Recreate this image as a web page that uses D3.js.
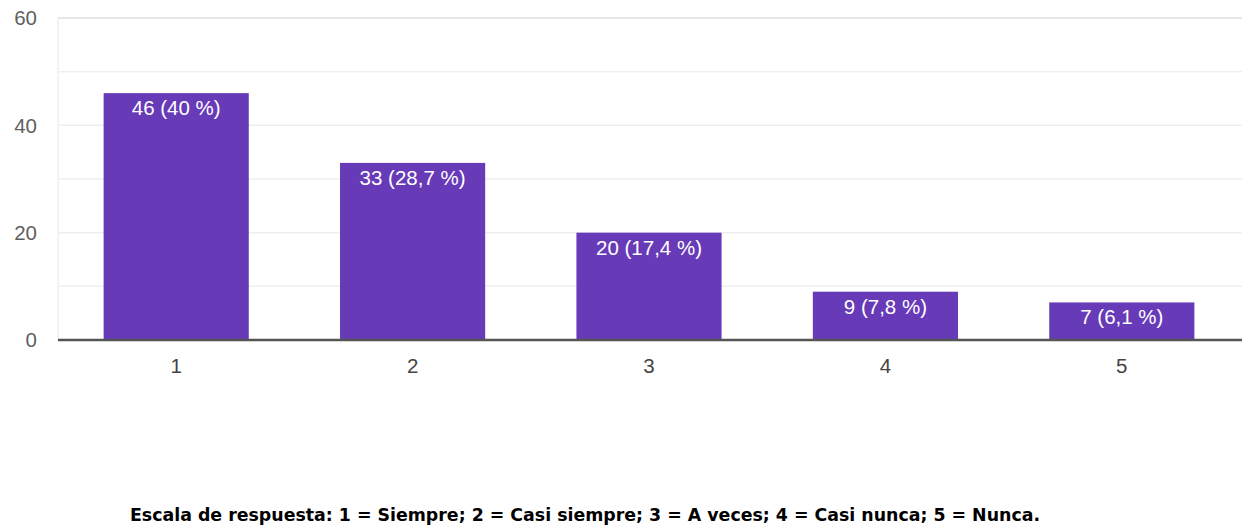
<!DOCTYPE html>
<html><head><meta charset="utf-8">
<script src="https://cdn.jsdelivr.net/npm/d3@7"></script>
<style>html,body{margin:0;padding:0;background:#fff;}</style>
</head><body>
<svg id="c" width="1242" height="527"></svg>
<script>
const categories = ["1","2","3","4","5"];
const values = [46,33,20,9,7];
const labels = ["46 (40 %)","33 (28,7 %)","20 (17,4 %)","9 (7,8 %)","7 (6,1 %)"];
const yTicks = [0,20,40,60];
const gridTicks = [0,10,20,30,40,50,60];
const caption = "Escala de respuesta: 1 = Siempre; 2 = Casi siempre; 3 = A veces; 4 = Casi nunca; 5 = Nunca.";

(function(){
const svg = d3.select("#c");
const mLeft = 58, mRight = 1240, mTop = 18, mBottom = 340;
const x = d3.scaleBand().domain(categories).range([mLeft, mRight]).paddingInner(0.386).paddingOuter(0.193);
const y = d3.scaleLinear().domain([0,60]).range([mBottom, mTop]);

svg.append("g").selectAll("line").data(gridTicks).join("line")
  .attr("x1", mLeft).attr("x2", 1242)
  .attr("y1", d=>y(d)).attr("y2", d=>y(d))
  .attr("stroke", d => d===60 ? "#e6e6e6" : "#efefef").attr("stroke-width", d=> d===60?2:1.5);
svg.append("line").attr("x1", mLeft).attr("x2", mLeft).attr("y1", mTop).attr("y2", mBottom)
  .attr("stroke", "#efefef").attr("stroke-width", 1.5);

svg.append("g").selectAll("text").data(yTicks).join("text")
  .attr("x", 37).attr("y", d=>y(d)).attr("dy","0.36em")
  .attr("text-anchor","end")
  .attr("font-family","Liberation Sans, Arial, sans-serif").attr("font-size",20.5)
  .attr("fill","#5f5f5f").text(d=>d);

svg.append("g").selectAll("rect").data(values).join("rect")
  .attr("x",(d,i)=>x(categories[i])).attr("width",x.bandwidth())
  .attr("y",d=>y(d)).attr("height",d=>y(0)-y(d))
  .attr("fill","#673ab7");

svg.append("g").selectAll("text").data(values).join("text")
  .attr("x",(d,i)=>x(categories[i])+x.bandwidth()/2)
  .attr("y",d=>y(d)+22)
  .attr("text-anchor","middle")
  .attr("font-family","Liberation Sans, Arial, sans-serif").attr("font-size",20.5)
  .attr("fill","#fff").text((d,i)=>labels[i]);

svg.append("line").attr("x1",mLeft).attr("x2",1242).attr("y1",y(0)).attr("y2",y(0))
  .attr("stroke","#555").attr("stroke-width",2.5);

svg.append("g").selectAll("text").data(categories).join("text")
  .attr("x",d=>x(d)+x.bandwidth()/2).attr("y",373)
  .attr("text-anchor","middle")
  .attr("font-family","Liberation Sans, Arial, sans-serif").attr("font-size",20.5)
  .attr("fill","#444").text(d=>d);

svg.append("text").attr("x",130).attr("y",521)
  .attr("font-family","DejaVu Sans Condensed, DejaVu Sans, sans-serif").attr("font-weight","bold")
  .attr("font-size",17).attr("textLength",910).attr("lengthAdjust","spacingAndGlyphs")
  .attr("fill","#000").text(caption);
})();
</script>
</body></html>
